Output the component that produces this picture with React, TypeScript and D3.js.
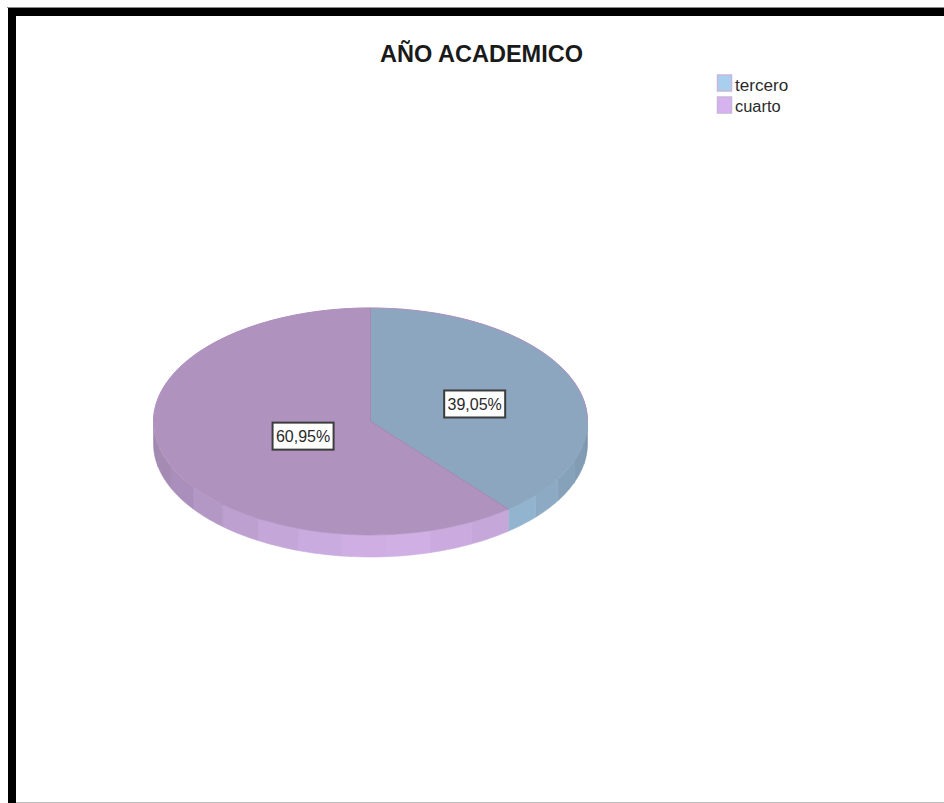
import React from "react";
import * as d3 from "d3";

const title = "AÑO ACADEMICO";
const categories = ["tercero", "cuarto"];
const shares = [39.05, 60.95];
const shareLabels = ["39,05%", "60,95%"];
const topColors = ["#8ba6be", "#af92bd"];
const legendColors = ["#a9cfee", "#d6b3ee"];
// Rim facet tones, keyed by category, running clockwise around the visible edge.
const rimTones = [
  ["#7d97ac", "#819cb3", "#86a2ba", "#8caac3", "#93b4ce"],
  ["#c6a7da", "#cbabdf", "#cfafe4", "#ceaee3", "#caabdf", "#c5a6d9", "#bd9fd0", "#b398c6", "#aa8fbc", "#a58bb4", "#a189af"],
];
const labelRadius = [0.51, 0.33];

const WIDTH = 944;
const HEIGHT = 803;
const CX = 370.5;
const CY = 421.5;
const RX = 217;
const RY = 113.5;
const DEPTH = 22;

const pieLayout = d3.pie<number>().sort(null).value((d) => d);
const slices = pieLayout(shares);
const unitArc = d3.arc<d3.PieArcDatum<number>>().innerRadius(0).outerRadius(1);

const sx = d3.scaleLinear().domain([-1, 1]).range([CX - RX, CX + RX]);
const sy = d3.scaleLinear().domain([-1, 1]).range([CY - RY, CY + RY]);

// Points along the ellipse between two clockwise-from-top angles.
function edgePoints(a0: number, a1: number, n = 12): [number, number][] {
  return d3.range(0, n + 1).map((i) => {
    const a = a0 + ((a1 - a0) * i) / n;
    return [sx(Math.sin(a)), sy(-Math.cos(a))] as [number, number];
  });
}

// One facet of the pie's side wall.
function rimFacet(a0: number, a1: number): string {
  const pts = edgePoints(a0, a1);
  const lower = [...pts].reverse().map(([x, y]) => [x, y + DEPTH] as [number, number]);
  return d3.line()([...pts, ...lower]) + "Z";
}

type Facet = { d: string; fill: string };

function buildFacets(): Facet[] {
  const facets: Facet[] = [];
  slices.forEach((s, i) => {
    const start = Math.max(s.startAngle, Math.PI / 2);
    const end = Math.min(s.endAngle, (3 * Math.PI) / 2);
    const tones = rimTones[i];
    tones.forEach((fill, k) => {
      const a0 = start + ((end - start) * k) / tones.length;
      const a1 = start + ((end - start) * (k + 1)) / tones.length;
      facets.push({ d: rimFacet(a0, a1), fill });
    });
  });
  return facets;
}

export default function App() {
  const facets = buildFacets();
  const upperEdge = d3.line()(edgePoints(-Math.PI / 2, Math.PI / 2, 80)) ?? "";
  return (
    <svg
      width={WIDTH}
      height={HEIGHT}
      style={{ position: "absolute", left: 0, top: 0, background: "#fff" }}
      fontFamily="'Liberation Sans', Arial, sans-serif"
    >
      {/* Heavy frame on the top and left, hairline along the bottom */}
      <rect x={7} y={7} width={WIDTH - 7} height={1} fill="#8a8a8a" />
      <rect x={8} y={8} width={WIDTH - 8} height={8} fill="#000" />
      <rect x={8} y={8} width={8} height={HEIGHT - 8} fill="#000" />
      <rect x={16} y={HEIGHT - 1} width={WIDTH - 16} height={1} fill="#bdbdbd" />

      <text x={481.5} y={62} textAnchor="middle" fontSize={23} fontWeight={700} fill="#1a1a1a" textLength={203} lengthAdjust="spacingAndGlyphs">
        {title}
      </text>

      {categories.map((c, i) => (
        <g key={c}>
          <rect x={717.5} y={75 + i * 22} width={14} height={16} fill={legendColors[i]} stroke="#c8b6dc" strokeWidth={1.5} />
          <text x={735} y={91 + i * 21} fontSize={16} fill="#2a2a2a" textLength={c.length * 7.6} lengthAdjust="spacingAndGlyphs">
            {c}
          </text>
        </g>
      ))}

      {facets.map((f, i) => (
        <path key={i} d={f.d} fill={f.fill} stroke={f.fill} strokeWidth={0.6} />
      ))}

      {slices.map((s, i) => (
        <path
          key={i}
          d={unitArc(s) ?? ""}
          transform={`translate(${CX},${CY}) scale(${RX},${RY})`}
          fill={topColors[i]}
          stroke={topColors[i]}
          strokeWidth={0.6}
          vectorEffect="non-scaling-stroke"
        />
      ))}

      {/* Thin edge over the back of the top face and along the slice boundaries */}
      <path d={upperEdge} fill="none" stroke="#b08fc0" strokeWidth={1} />
      {slices.map((s, i) => {
        const x = sx(Math.sin(s.startAngle));
        const y = sy(-Math.cos(s.startAngle));
        return <line key={i} x1={CX} y1={CY} x2={x} y2={y} stroke="#a587b6" strokeWidth={1} />;
      })}

      {slices.map((s, i) => {
        const mid = (s.startAngle + s.endAngle) / 2;
        const x = sx(Math.sin(mid) * labelRadius[i]);
        const y = sy(-Math.cos(mid) * labelRadius[i]) + 2;
        return (
          <g key={i} transform={`translate(${x},${y})`}>
            <rect x={-30.5} y={-13.5} width={61} height={27} fill="#fff" stroke="#3c3c3c" strokeWidth={2} />
            <text textAnchor="middle" y={6} fontSize={16} fill="#2a2a2a">
              {shareLabels[i]}
            </text>
          </g>
        );
      })}
    </svg>
  );
}
